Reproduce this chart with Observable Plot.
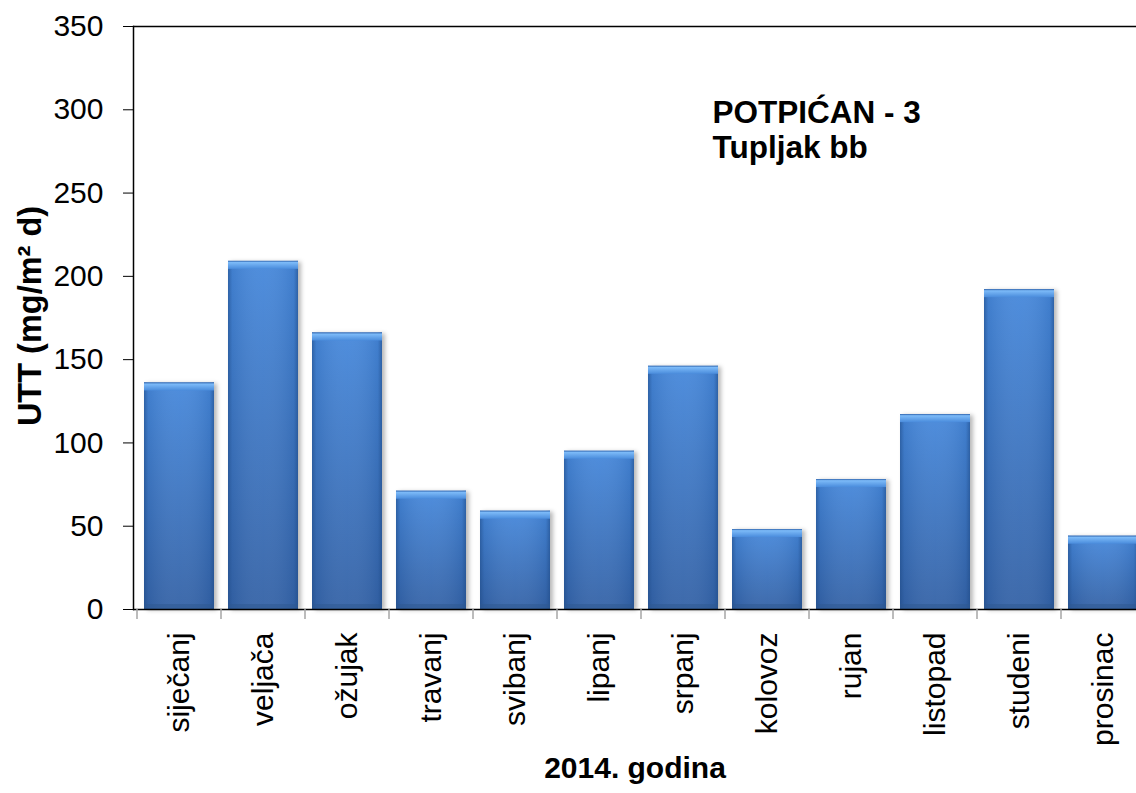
<!DOCTYPE html>
<html>
<head>
<meta charset="utf-8">
<script src="https://cdn.jsdelivr.net/npm/d3@7"></script>
<script src="https://cdn.jsdelivr.net/npm/@observablehq/plot@0.6"></script>
<style>
  html, body { margin: 0; padding: 0; background: #fff; overflow: hidden; }
  #chart { width: 1136px; height: 793px; overflow: hidden; }
</style>
</head>
<body>
<div id="chart"></div>
<script>
const months = ["siječanj","veljača","ožujak","travanj","svibanj","lipanj","srpanj","kolovoz","rujan","listopad","studeni","prosinac"];
const values = [136, 209, 166, 71, 59, 95, 146, 48, 78, 117, 192, 44];
const yTicks = [0, 50, 100, 150, 200, 250, 300, 350];
const yLabel = "UTT (mg/m² d)";
const xLabel = "2014. godina";
const annotation = "POTPIĆAN - 3\nTupljak bb";

const data = months.map((m, i) => ({month: m, value: values[i]}));
const font = "'Liberation Sans', Arial, Helvetica, sans-serif";

const chart = Plot.plot({
  width: 1148,
  height: 793,
  marginLeft: 133,
  marginRight: 0,
  marginTop: 26,
  marginBottom: 184,
  style: {fontFamily: font, fontSize: "30px", color: "#000", background: "#fff", maxWidth: "none"},
  x: {domain: months, paddingInner: 0.17, paddingOuter: 0.085},
  y: {domain: [0, 350]},
  marks: [
    Plot.barY(data, {x: "month", y: "value", fill: "url(#barV)"}),
    Plot.barY(data, {x: "month", y: "value", fill: "url(#barH)"}),
    Plot.barY(data, {x: "month", y1: "value", y2: "value", insetBottom: -8, fill: "url(#barTop)"}),
    Plot.barY(data, {x: "month", y1: 0, y2: 0, insetTop: -5, fill: "#2d578f", fillOpacity: 0.5}),
    Plot.ruleY([0], {stroke: "#000", strokeWidth: 1.5}),
    Plot.ruleY([350], {stroke: "#000", strokeWidth: 1.5}),
    Plot.frame({anchor: "left", stroke: "#000", strokeWidth: 1.5}),
    Plot.axisY({ticks: yTicks, tickSize: 10, tickPadding: 20, label: null, fontSize: 30, tickFormat: d => String(d)}),
    Plot.axisX({tickSize: 0, tickPadding: 23, tickRotate: -90, label: null, fontSize: 30}),
    Plot.text([yLabel], {frameAnchor: "left", dx: -103, dy: -2, rotate: -90, fontWeight: "bold", fontSize: 32.5, textAnchor: "middle", fill: "#000"}),
    Plot.text([xLabel], {frameAnchor: "bottom", dx: -6, dy: 168, fontWeight: "bold", fontSize: 30, textAnchor: "middle", fill: "#000"}),
    Plot.text([annotation], {frameAnchor: "top-left", dx: 579, dy: 72, fontWeight: "bold", fontSize: 31.5, textAnchor: "start", lineAnchor: "top", lineHeight: 1.11, fill: "#000"})
  ]
});

document.getElementById("chart").appendChild(chart);

// gradient definitions for the bars
const svg = d3.select(chart);
const defs = svg.insert("defs", ":first-child");
const gv = defs.append("linearGradient").attr("id", "barV").attr("x1", 0).attr("y1", 0).attr("x2", 0).attr("y2", 1);
gv.append("stop").attr("offset", "0%").attr("stop-color", "#4688db");
gv.append("stop").attr("offset", "100%").attr("stop-color", "#3462a6");
const gh = defs.append("linearGradient").attr("id", "barH").attr("x1", 0).attr("y1", 0).attr("x2", 1).attr("y2", 0);
gh.append("stop").attr("offset", "0%").attr("stop-color", "#1f4a85").attr("stop-opacity", 0.6);
gh.append("stop").attr("offset", "6%").attr("stop-color", "#1f4a85").attr("stop-opacity", 0.15);
gh.append("stop").attr("offset", "50%").attr("stop-color", "#ffffff").attr("stop-opacity", 0.05);
gh.append("stop").attr("offset", "94%").attr("stop-color", "#1f4a85").attr("stop-opacity", 0.15);
gh.append("stop").attr("offset", "100%").attr("stop-color", "#1f4a85").attr("stop-opacity", 0.6);
const gt = defs.append("linearGradient").attr("id", "barTop").attr("x1", 0).attr("y1", 0).attr("x2", 0).attr("y2", 1);
gt.append("stop").attr("offset", "0%").attr("stop-color", "#2f64ad");
gt.append("stop").attr("offset", "20%").attr("stop-color", "#7cbaf8");
gt.append("stop").attr("offset", "100%").attr("stop-color", "#4a8cdc");

// soft shadow on the main bars
const barGroups = svg.selectAll('g[aria-label="bar"]').nodes();
if (barGroups.length) d3.select(barGroups[0]).style("filter", "drop-shadow(3px 1px 2px rgba(0,0,0,0.28))");

// gray category ticks at band edges, from the library's x scale
const sx = chart.scale("x");
const step = sx.step;
const y0 = chart.scale("y").apply(0);
const edges = months.map(m => sx.apply(m) - (step - sx.bandwidth) / 2);
edges.push(edges[edges.length - 1] + step);
const tg = svg.append("g").attr("aria-label", "x-category-ticks");
tg.selectAll("line").data(edges).join("line")
  .attr("x1", d => d).attr("x2", d => d)
  .attr("y1", y0).attr("y2", y0 + 10)
  .attr("stroke", "#a6a6a6").attr("stroke-width", 1.5);
</script>
</body>
</html>
